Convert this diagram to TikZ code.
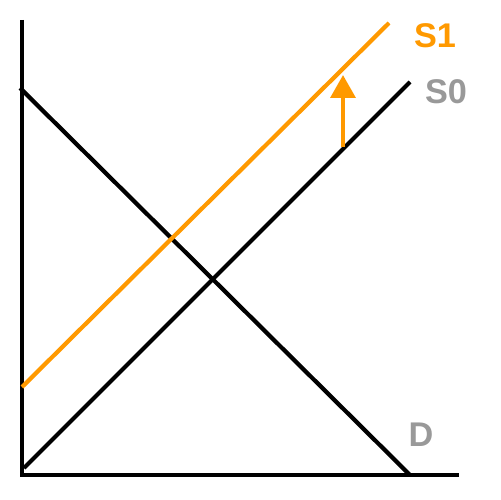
\documentclass[tikz,border=0pt]{standalone}
\usepackage{fontspec}
\setmainfont{Liberation Sans}
\usetikzlibrary{arrows.meta}
\definecolor{sorange}{HTML}{FF9900}
\definecolor{lgray}{HTML}{999999}
\begin{document}
\begin{tikzpicture}[x=0.02cm,y=-0.02cm,
  axis/.style={line width=2.8pt},
  curve/.style={line width=2.4pt},
  lbl/.style={font=\fontsize{19.5}{19.5}\selectfont\bfseries, inner sep=0pt}]
\useasboundingbox (0,0) rectangle (500,500);
% axes
\coordinate (top) at (22,20);
\coordinate (orig) at (22,475);
\coordinate (right) at (459,475);
\draw[axis] (top) -- (orig) -- (right);
% demand
\coordinate (d0) at (20,88);
\coordinate (d1) at (410,475);
\draw[curve] (d0) -- (d1);
% supply S0
\coordinate (s00) at (24,468);
\coordinate (s01) at (410,82);
\draw[curve] (s00) -- (s01);
% supply S1
\coordinate (s10) at (22,387);
\coordinate (s11) at (389,23);
\draw[curve, sorange] (s10) -- (s11);
% arrow
\coordinate (a0) at (343,147);
\coordinate (a1) at (343,75);
\draw[line width=2.4pt, sorange, -{Triangle[length=13pt,width=14pt]}] (a0) -- (a1);
% labels
\node[lbl, text=sorange] (S1) at (435,36) {S1};
\node[lbl, text=lgray] (S0) at (446,92) {S0};
\node[lbl, text=lgray] (D) at (421,435) {D};
\end{tikzpicture}
\end{document}
